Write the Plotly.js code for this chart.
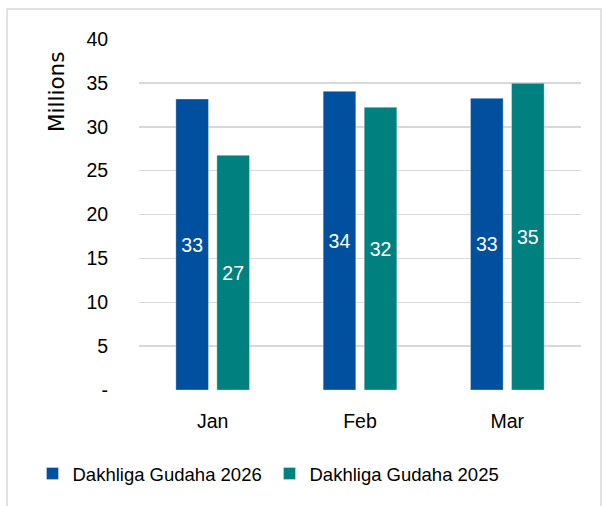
<!DOCTYPE html>
<html>
<head>
<meta charset="utf-8">
<script src="https://cdn.plot.ly/plotly-3.0.1.min.js"></script>
<style>
  html, body { margin: 0; padding: 0; background: #ffffff; }
  #chart { width: 602px; height: 506px; }
</style>
</head>
<body>
<div id="chart"></div>
<script>
const months = ['Jan', 'Feb', 'Mar'];
const series2026 = [33.16, 34.04, 33.24];
const series2025 = [26.74, 32.22, 34.95];
const seriesNames = ['Dakhliga Gudaha 2026', 'Dakhliga Gudaha 2025'];
const yTickVals = [0, 5, 10, 15, 20, 25, 30, 35, 40];
const yTickText = ['-', '5', '10', '15', '20', '25', '30', '35', '40'];

const FONT = '"Liberation Sans", Arial, sans-serif';

const barCommon = {
  type: 'bar',
  x: months,
  texttemplate: '%{y:.0f}',
  textposition: 'inside',
  insidetextanchor: 'middle',
  textangle: 0,
  constraintext: 'none',
  textfont: { family: FONT, size: 19.5, color: '#ffffff' },
  hoverinfo: 'skip'
};

const traces = [
  Object.assign({}, barCommon, {
    name: seriesNames[0],
    y: series2026,
    marker: { color: '#00509F', line: { width: 0.6, color: 'rgba(255,255,255,0.55)' } }
  }),
  Object.assign({}, barCommon, {
    name: seriesNames[1],
    y: series2025,
    marker: { color: '#00807E', line: { width: 0.6, color: 'rgba(255,255,255,0.55)' } }
  })
];

const layout = {
  width: 602,
  height: 506,
  margin: { l: 139, r: 21, t: 39, b: 116, pad: 0 },
  paper_bgcolor: '#ffffff',
  plot_bgcolor: '#ffffff',
  font: { family: FONT, size: 19.5, color: '#000000' },
  barmode: 'group',
  bargap: 0.443,
  bargroupgap: 0.205,
  showlegend: true,
  legend: {
    orientation: 'h',
    x: -0.241,
    xanchor: 'left',
    y: -0.239,
    yanchor: 'middle',
    entrywidth: 192,
    entrywidthmode: 'pixels',
    font: { family: FONT, size: 18.5, color: '#000000' },
    bgcolor: 'rgba(0,0,0,0)',
    traceorder: 'normal'
  },
  xaxis: {
    type: 'category',
    showgrid: false,
    zeroline: false,
    showline: false,
    ticks: 'outside',
    ticklen: 14,
    tickcolor: 'rgba(0,0,0,0)',
    tickfont: { family: FONT, size: 19.5, color: '#000000' }
  },
  yaxis: {
    range: [0, 40],
    tickvals: yTickVals,
    ticktext: yTickText,
    showgrid: true,
    gridcolor: '#d9d9d9',
    gridwidth: 1.5,
    zeroline: false,
    showline: false,
    ticks: 'outside',
    ticklen: 26,
    tickcolor: 'rgba(0,0,0,0)',
    tickfont: { family: FONT, size: 19.5, color: '#000000' }
  },
  annotations: [
    {
      text: 'Millions',
      xref: 'paper', yref: 'paper',
      x: -0.1878, y: 0.849,
      xanchor: 'center', yanchor: 'middle',
      textangle: -90,
      showarrow: false,
      font: { family: '"DejaVu Sans", sans-serif', size: 21.5, color: '#000000' }
    }
  ],
  shapes: [
    {
      type: 'rect',
      xref: 'paper', yref: 'paper',
      x0: -0.2986, x1: 1.0452,
      y0: -0.36, y1: 1.0855,
      line: { color: '#d9d9d9', width: 1.5 },
      fillcolor: 'rgba(0,0,0,0)',
      layer: 'below'
    }
  ]
};

Plotly.newPlot('chart', traces, layout, { displayModeBar: false, staticPlot: true });
</script>
</body>
</html>
